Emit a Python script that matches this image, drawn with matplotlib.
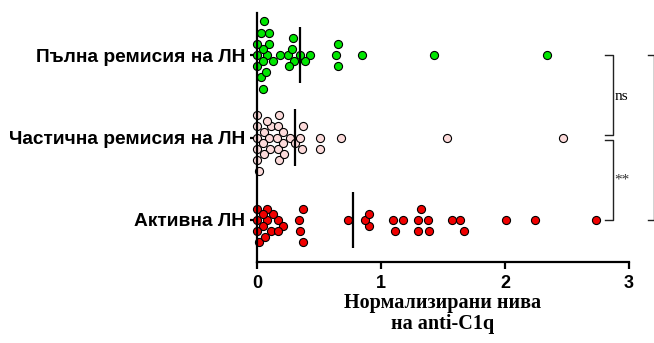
import numpy as np
import matplotlib
matplotlib.use('Agg')
import matplotlib.pyplot as plt

# groups, bottom to top
groups = ['Активна ЛН', 'Частична ремисия на ЛН', 'Пълна ремисия на ЛН']
colors = ['#f00000', '#fcdada', '#00e600']

active = [0.02, 0.083, 0.0, 0.17, 0.37, 0.046, 0.0, 0.11, 0.207, 0.34, 0.065, 0.0,
          0.13, 0.347, 0.083, 0.046, 0.17, 0.37,
          0.73, 0.906, 0.87, 0.906, 1.113, 1.10, 1.18, 1.32, 1.387, 1.30, 1.30, 1.38,
          1.575, 1.637, 1.67, 2.008, 2.245, 2.73]
partial = [0.0, 0.17, 0.266, 0.056, 0.0, 0.113, 0.21, 0.363, 0.51, 0.02, 0.078, 0.17,
           0.0, 0.1, 0.21, 0.31, 0.51, 0.68, 1.53, 2.47, 0.05, 0.18, 0.0, 0.105,
           0.22, 0.35, 0.06, 0.18, 0.0, 0.165, 0.37]
full = [0.03, 0.05, 0.0, 0.08, 0.13, 0.25, 0.30, 0.43, 0.65, 0.0, 0.045, 0.095,
        0.185, 0.285, 0.385, 0.635, 0.85, 1.43, 2.34, 0.07, 0.045, 0.0, 0.10, 0.26,
        0.29, 0.65, 0.055, 0.03, 0.35]
data = [active, partial, full]

xticks = [0, 1, 2, 3]

W, H = 654, 343
fig = plt.figure(figsize=(W / 100, H / 100), dpi=100)
ax = fig.add_axes([257 / W, 81 / H, 372 / W, 249 / H])
ax.set_xlim(0, 3)
ax.set_ylim(-0.51, 2.51)

# pixels per data unit, used for the swarm layout
xs = 372 / 3.0
ys = 249 / 3.02
diam = 7.0
step = 5.6


def swarm(vals):
    vals = np.asarray(vals, float)
    placed = []
    offs = np.zeros(len(vals))
    ks = [0]
    for k in range(1, 8):
        ks += [-k, k]
    for i in np.argsort(vals, kind='stable'):
        x = vals[i] * xs
        for k in ks:
            y = k * step
            if all((x - px) ** 2 + (y - py) ** 2 >= diam ** 2 for px, py in placed):
                break
        placed.append((x, y))
        offs[i] = y
    return offs / ys


for pos, (vals, c) in enumerate(zip(data, colors)):
    offs = swarm(vals)
    ax.scatter(vals, pos + offs, s=34, c=c, edgecolors='black', linewidths=0.8,
               zorder=2, clip_on=False)
    m = np.mean(vals)
    ax.plot([m, m], [pos - 0.34, pos + 0.34], color='black', lw=1.6, zorder=3,
            solid_capstyle='butt')

for s in ['top', 'right']:
    ax.spines[s].set_visible(False)
for s in ['left', 'bottom']:
    ax.spines[s].set_linewidth(1.6)
    ax.spines[s].set_zorder(4)

ax.set_yticks(range(3))
ax.set_yticklabels(groups, fontfamily='Liberation Sans', fontweight='bold', fontsize=13.8)
ax.set_xticks(xticks)
ax.set_xticklabels([str(t) for t in xticks], fontfamily='Liberation Sans',
                   fontweight='bold', fontsize=13)
ax.tick_params(axis='y', length=5, width=1.6, pad=3.5)
ax.tick_params(axis='x', length=5, width=1.6, pad=4)

ax.set_xlabel('Нормализирани нива\nна anti-C1q', fontfamily='Liberation Serif',
              fontweight='bold', fontsize=14.5, labelpad=1, linespacing=1.05)

# significance brackets
bk = dict(color='#222222', lw=1.0, clip_on=False)
ax.plot([2.81, 2.87, 2.87, 2.81], [2.0, 2.0, 1.03, 1.03], **bk)
ax.plot([2.81, 2.87, 2.87, 2.81], [0.97, 0.97, 0.0, 0.0], **bk)
ax.plot([3.15, 3.2, 3.2, 3.15], [2.0, 2.0, 0.0, 0.0], **bk)
ax.text(2.885, 1.5, 'ns', fontfamily='Liberation Serif', fontsize=11, va='center',
        ha='left')
ax.text(2.885, 0.485, '**', fontfamily='Liberation Serif', fontsize=11, va='center',
        ha='left', color='#333333')

fig.savefig('out.png', dpi=100)
